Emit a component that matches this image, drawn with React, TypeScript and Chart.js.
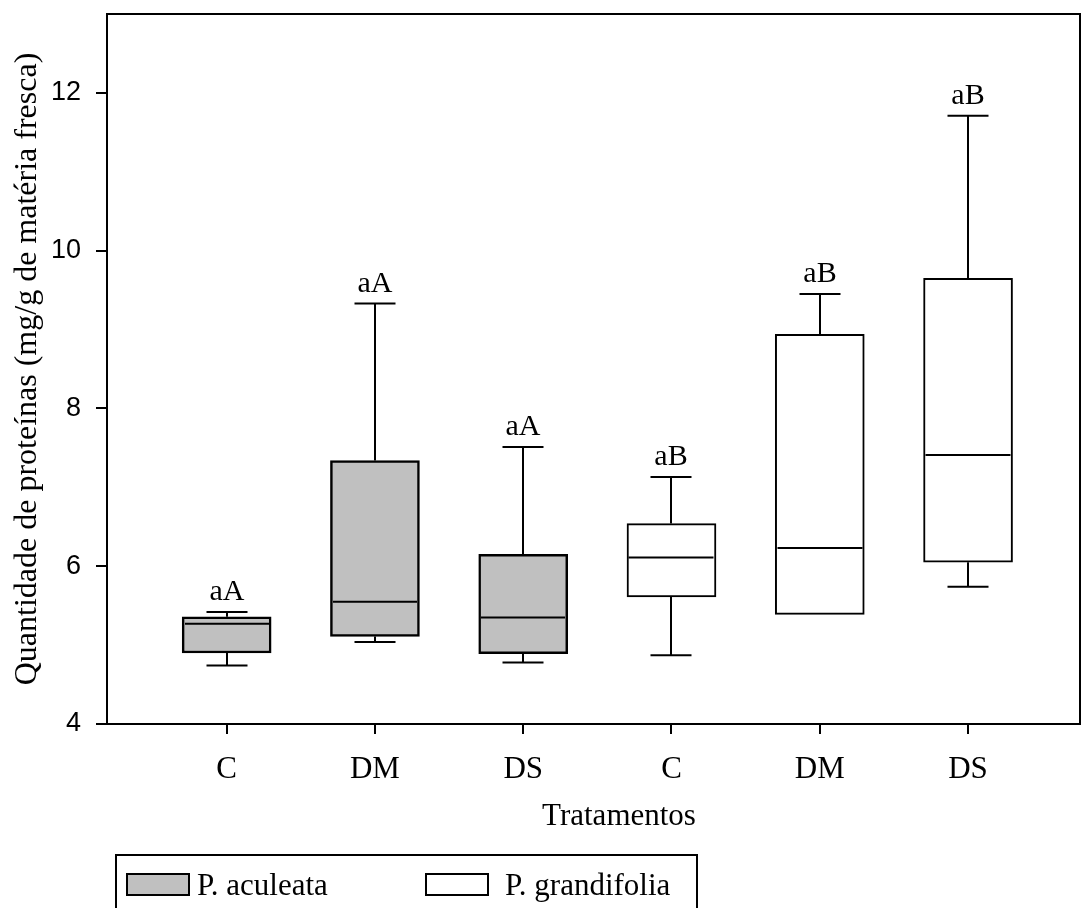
import React, { useEffect, useRef } from 'react';
import { Chart, registerables } from 'chart.js';

Chart.register(...registerables);

// ---- data ----
const categories = ['C', 'DM', 'DS', 'C', 'DM', 'DS'];
const positions = [1, 2, 3, 4, 5, 6];
const speciesNames = ['P. aculeata', 'P. grandifolia'];
const speciesOfBox = [0, 0, 0, 1, 1, 1];
const whiskerLow = [4.74, 5.04, 4.78, 4.87, 5.39, 5.74];
const q1 = [4.9, 5.11, 4.89, 5.61, 5.39, 6.05];
const medians = [5.27, 5.55, 5.35, 6.11, 6.23, 7.41];
const q3 = [5.36, 7.34, 6.15, 6.54, 8.94, 9.65];
const whiskerHigh = [5.42, 9.33, 7.51, 7.13, 9.45, 11.71];
const letters = ['aA', 'aA', 'aA', 'aB', 'aB', 'aB'];
const yTickValues = [4, 6, 8, 10, 12];
const yTitle = 'Quantidade de proteínas (mg/g de matéria fresca)';
const xTitle = 'Tratamentos';

// ---- styles ----
const fills = ['#c0c0c0', '#ffffff'];
const boxBorder = [2.5, 2];
const BOX_W = 89;
const CAP_W = 41;
const SERIF = '"Liberation Serif", "Times New Roman", serif';
const SANS = '"Liberation Sans", Arial, sans-serif';

const boxPlugin = {
  id: 'boxDetails',
  beforeDatasetsDraw(chart: any) {
    const { ctx, chartArea } = chart;
    ctx.save();
    ctx.strokeStyle = '#000';
    ctx.lineWidth = 2;
    ctx.strokeRect(chartArea.left, chartArea.top, chartArea.right - chartArea.left, chartArea.bottom - chartArea.top);
    ctx.restore();
  },
  afterDatasetsDraw(chart: any) {
    const { ctx } = chart;
    const xs = chart.scales.x;
    const ys = chart.scales.y;
    ctx.save();
    ctx.strokeStyle = '#000';
    ctx.lineCap = 'butt';
    positions.forEach((p, i) => {
      const cx = Math.round(xs.getPixelForValue(p));
      const bw = boxBorder[speciesOfBox[i]];
      const half = BOX_W / 2;
      const capHalf = CAP_W / 2;
      const line = (x1: number, y1: number, x2: number, y2: number) => {
        ctx.beginPath();
        ctx.moveTo(x1, y1);
        ctx.lineTo(x2, y2);
        ctx.stroke();
      };
      ctx.lineWidth = 2;
      const yMed = ys.getPixelForValue(medians[i]);
      line(cx - half + bw, yMed, cx + half - bw, yMed);
      const yQ3 = ys.getPixelForValue(q3[i]);
      const yQ1 = ys.getPixelForValue(q1[i]);
      const yHi = ys.getPixelForValue(whiskerHigh[i]);
      const yLo = ys.getPixelForValue(whiskerLow[i]);
      if (whiskerHigh[i] > q3[i]) {
        line(cx, yQ3, cx, yHi);
        line(cx - capHalf, yHi, cx + capHalf, yHi);
      }
      if (whiskerLow[i] < q1[i]) {
        line(cx, yQ1, cx, yLo);
        line(cx - capHalf, yLo, cx + capHalf, yLo);
      }
      ctx.fillStyle = '#000';
      ctx.font = `30px ${SERIF}`;
      ctx.textAlign = 'center';
      ctx.textBaseline = 'alphabetic';
      ctx.fillText(letters[i], cx, Math.min(yHi, yQ3) - 12);
    });
    ctx.restore();
  },
  afterDraw(chart: any) {
    const { ctx, chartArea } = chart;
    ctx.save();
    // x axis title
    ctx.fillStyle = '#000';
    ctx.font = `31px ${SERIF}`;
    ctx.textAlign = 'center';
    ctx.textBaseline = 'alphabetic';
    ctx.fillText(xTitle, 619, chartArea.bottom + 101);
    // legend frame
    const top = chartArea.bottom + 131;
    ctx.strokeStyle = '#000';
    ctx.lineWidth = 2;
    ctx.strokeRect(116, top, 581, 80);
    const swX = [127, 426];
    const txX = [197, 505];
    speciesNames.forEach((name, s) => {
      ctx.fillStyle = fills[s];
      ctx.fillRect(swX[s], top + 19, 62, 21);
      ctx.lineWidth = 2;
      ctx.strokeRect(swX[s], top + 19, 62, 21);
      ctx.fillStyle = '#000';
      ctx.font = `31px ${SERIF}`;
      ctx.textAlign = 'left';
      ctx.textBaseline = 'alphabetic';
      ctx.fillText(name, txX[s], top + 40);
    });
    ctx.restore();
  },
};

export default function App() {
  const canvasRef = useRef<HTMLCanvasElement | null>(null);

  useEffect(() => {
    const canvas = canvasRef.current;
    if (!canvas) return;
    const datasets = speciesNames.map((name, s) => ({
      label: name,
      data: positions
        .map((p, i) => ({ i, p }))
        .filter(({ i }) => speciesOfBox[i] === s)
        .map(({ i, p }) => ({ x: p, y: [q1[i], q3[i]] })),
      backgroundColor: fills[s],
      borderColor: '#000',
      borderWidth: boxBorder[s],
      borderSkipped: false,
      barThickness: BOX_W,
      grouped: false,
    }));

    const chart = new Chart(canvas, {
      type: 'bar',
      data: { datasets: datasets as any },
      options: {
        responsive: false,
        animation: false,
        events: [],
        layout: { padding: { left: 0, top: 14, right: 2, bottom: 0 } },
        plugins: {
          legend: { display: false },
          tooltip: { enabled: false },
        },
        scales: {
          x: {
            type: 'linear',
            offset: false,
            min: 0.193,
            max: 6.755,
            afterBuildTicks: (scale: any) => {
              scale.ticks = positions.map((v) => ({ value: v }));
            },
            afterFit: (scale: any) => {
              scale.height = 184;
              scale.paddingLeft = 0;
              scale.paddingRight = 0;
            },
            grid: {
              offset: false,
              drawOnChartArea: false,
              drawTicks: true,
              tickLength: 10,
              color: '#000',
              lineWidth: 2,
            },
            border: { display: true, color: '#000', width: 2 },
            ticks: {
              autoSkip: false,
              maxRotation: 0,
              padding: 17,
              color: '#000',
              font: { family: SERIF, size: 31 },
              callback: (v: any) => categories[positions.indexOf(Number(v))] ?? '',
            },
          },
          y: {
            type: 'linear',
            min: 4,
            max: 13,
            afterBuildTicks: (scale: any) => {
              scale.ticks = yTickValues.map((v) => ({ value: v }));
            },
            afterFit: (scale: any) => {
              scale.width = 107;
              scale.paddingTop = 0;
              scale.paddingBottom = 0;
            },
            grid: {
              drawOnChartArea: false,
              drawTicks: true,
              tickLength: 11,
              color: '#000',
              lineWidth: 2,
            },
            border: { display: true, color: '#000', width: 2 },
            ticks: {
              padding: 15,
              color: '#000',
              font: { family: SANS, size: 27 },
            },
            title: {
              display: true,
              text: yTitle,
              color: '#000',
              font: { family: SERIF, size: 32 },
              padding: { top: 8, bottom: 0 },
            },
          },
        },
      },
      plugins: [boxPlugin],
    });
    return () => chart.destroy();
  }, []);

  return (
    <div style={{ position: 'fixed', left: 0, top: 0, width: 1082, height: 908, background: '#fff' }}>
      <canvas ref={canvasRef} width={1082} height={908} style={{ display: 'block' }} />
    </div>
  );
}
